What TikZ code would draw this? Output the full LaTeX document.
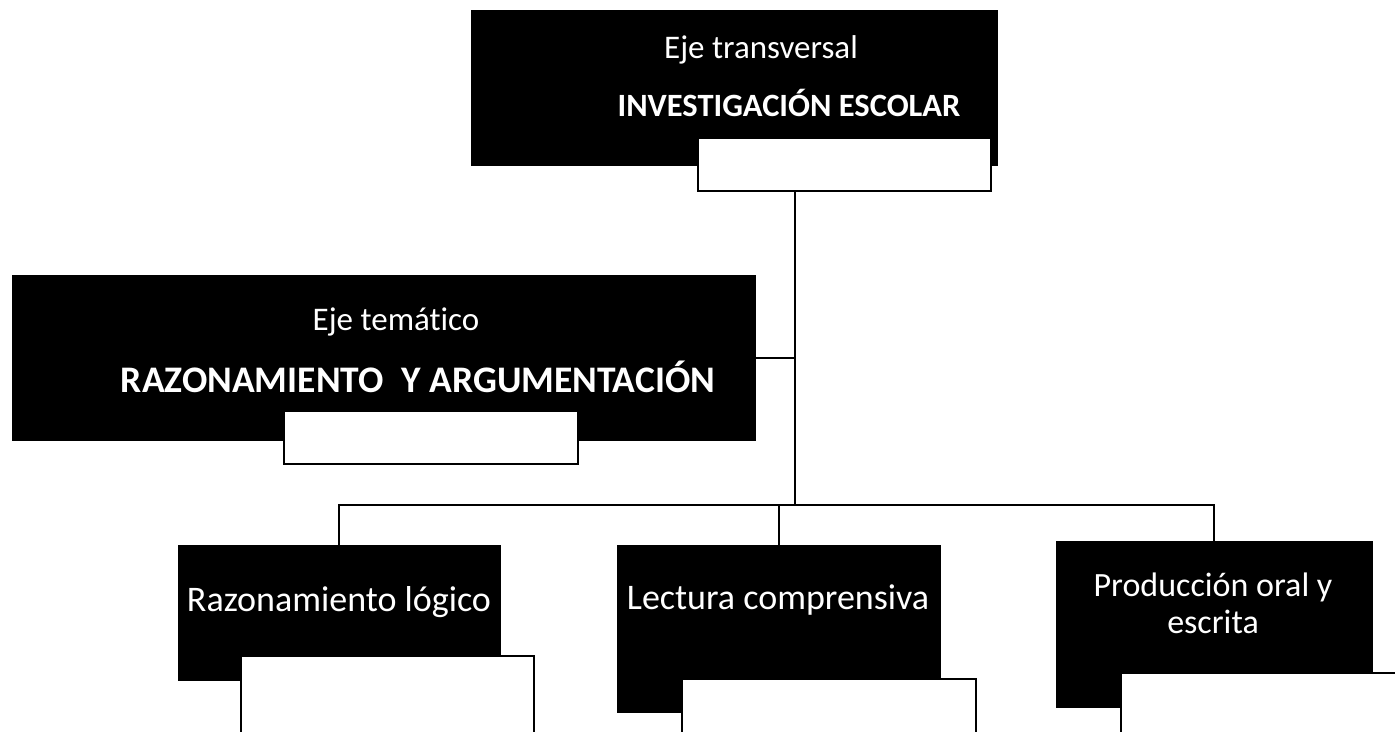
\documentclass[tikz,border=0pt]{standalone}
\usepackage{fontspec}
\setmainfont[Ligatures=NoCommon]{Carlito}
\begin{document}
\begin{tikzpicture}[x=1pt,y=-1pt,
  blk/.style={draw=black,fill=black,rectangle,anchor=north west,inner sep=0pt,line width=0.5pt},
  wbox/.style={draw=black,fill=white,rectangle,anchor=north west,inner sep=0pt,line width=2pt},
  lbl/.style={text=white,font=\fontsize{33}{37}\selectfont,inner sep=0pt,align=center},
  lbig/.style={text=white,font=\fontsize{36}{37}\selectfont,inner sep=0pt,align=center},
  blbl/.style={text=white,font=\fontsize{32.5}{37}\selectfont\bfseries,inner sep=0pt},
  conn/.style={draw=black,line width=2pt}]
\clip (0,0) rectangle (1395,731);
\fill[white] (0,0) rectangle (1395,731);
% top
\node[blk,minimum width=526pt,minimum height=155pt] (tb) at (471,10) {};
\node[wbox,minimum width=293pt,minimum height=53pt] (tw) at (697,137) {};
\node[lbl] (t1) at (761,50) {Eje transversal};
\node[blbl] (t2) at (789,103) {INVESTIGACIÓN ESCOLAR};
% eje tematico
\node[blk,minimum width=743pt,minimum height=165pt] (eb) at (12,275) {};
\node[wbox,minimum width=294pt,minimum height=53pt] (ew) at (283,410) {};
\node[lbl] (e1) at (396,322) {Eje temático};
\node[blbl,font=\fontsize{37.5}{37}\selectfont\bfseries] (e2) at (418,377) {RAZONAMIENTO\hspace{18pt}Y ARGUMENTACIÓN};
% bottom boxes
\node[blk,minimum width=322pt,minimum height=135pt] (rb) at (178,545) {};
\node[wbox,minimum width=293pt,minimum height=90pt] (rw) at (240,655) {};
\node[lbig] (r1) at (339,602) {Razonamiento lógico};
\node[blk,minimum width=323pt,minimum height=167pt] (lb) at (617,545) {};
\node[wbox,minimum width=294pt,minimum height=70pt] (lw) at (681,678) {};
\node[lbig] (l1) at (778,600) {Lectura comprensiva};
\node[blk,minimum width=316pt,minimum height=166pt] (pb) at (1056,541) {};
\node[wbox,minimum width=300pt,minimum height=80pt] (pw) at (1120,672) {};
\node[lbig,font=\fontsize{34}{37}\selectfont] (p1) at (1213,603) {Producción oral y\\escrita};
% connectors
\coordinate (bus) at (795,505);
\draw[conn] ([xshift=98pt]tw.south west) -- (bus);
\draw[conn] (eb.east) -- (eb.east -| bus);
\draw[conn] (rb.north) |- (pb.north |- bus) -- (pb.north);
\draw[conn] (lb.north) -- (lb.north |- bus);
\end{tikzpicture}
\end{document}
